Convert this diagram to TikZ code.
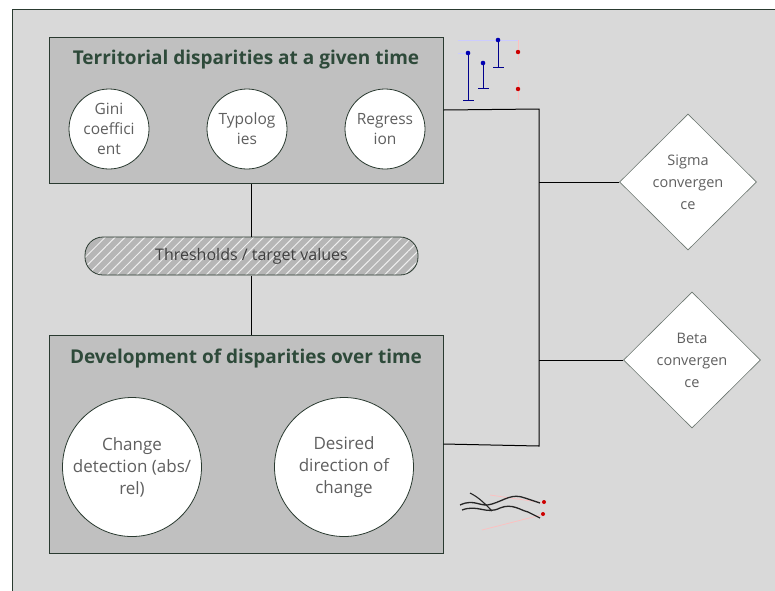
\documentclass[tikz,border=0pt]{standalone}
\usepackage{fontspec}
\setmainfont{Open Sans}
\usetikzlibrary{patterns.meta,shapes.geometric,calc}
\definecolor{bgc}{HTML}{D9D9D9}
\definecolor{boxc}{HTML}{C0C0C0}
\definecolor{titlec}{HTML}{2E4A3A}
\definecolor{txtc}{HTML}{5F5F5F}
\definecolor{framec}{HTML}{2A3A30}
\begin{document}
\begin{tikzpicture}[x=1pt,y=-1pt,
  bigbox/.style={draw=framec,line width=1pt,fill=boxc,minimum width=394pt,inner sep=0pt},
  ttl/.style={text=titlec,font=\bfseries\fontsize{19}{22}\selectfont},
  smallcirc/.style={circle,draw=framec,line width=0.8pt,fill=white,minimum size=80pt,inner sep=0pt,align=center,text=txtc,font=\fontsize{15.5}{20}\selectfont},
  largecirc/.style={circle,draw=framec,line width=0.8pt,fill=white,minimum size=139pt,inner sep=0pt,align=center,text=txtc,font=\fontsize{17}{22}\selectfont},
  dia/.style={diamond,draw=framec!70,line width=0.6pt,fill=white,minimum width=137pt,minimum height=136pt,inner sep=0pt,align=center,text=txtc,font=\fontsize{14.5}{22}\selectfont},
  conn/.style={draw=black,line width=1pt}]
\useasboundingbox (0,0) rectangle (775,590);
\fill[white] (0,0) rectangle (775,590);
\draw[framec,line width=1pt,fill=bgc] (12,9) rectangle (800,620);
% boxes
\node[bigbox,minimum height=146pt] (tb) at (246,110) {};
\node[bigbox,minimum height=218pt] (bb) at (246,444) {};
\node[ttl] (tt) at (246,60) {Territorial disparities at a given time};
\node[ttl] (bt) at (246,359) {Development of disparities over time};
% circles
\node[smallcirc] (gini) at (109,129) {Gini\\coeffici\\ent};
\node[smallcirc] (typo) at (247,129) {Typolog\\ies};
\node[smallcirc] (regr) at (385,129) {Regress\\ion};
\node[largecirc] (chg) at (132,467) {Change\\detection (abs/\\rel)};
\node[largecirc] (des) at (344,467) {Desired\\direction of\\change};
% pill
\node[draw=framec,line width=0.8pt,rounded corners=18pt,minimum width=333pt,minimum height=38pt,
  preaction={fill=boxc!95!black},pattern={Lines[angle=45,distance=7pt,line width=1pt]},pattern color=white!75!boxc,
  text=black!75,font=\fontsize{16}{19}\selectfont] (pill) at (251.5,256) {Thresholds / target values};
% diamonds
\node[dia] (sig) at (688,182) {Sigma\\convergen\\ce};
\node[dia] (beta) at (692,360) {Beta\\convergen\\ce};
% connectors
\coordinate (jt) at (539,109);
\coordinate (jb) at (539,446);
\draw[conn] (tb.east) -- (jt) -- (jb) -- (bb.east);
\draw[conn] (sig.west) -- (sig.west -| jt);
\draw[conn] (beta.west) -- (beta.west -| jt);
\draw[conn] (pill.north) -- (pill.north |- tb.south);
\draw[conn] (pill.south) -- (pill.south |- bb.north);
% top icon
\draw[blue!20!white,line width=0.5pt] (458,40) -- (518,40) (458,53) -- (470,53);
\draw[red!25,line width=0.6pt] (518,40) -- (518,60) (518,80) -- (518,100);
\draw[blue!55!black,line width=1pt] (468,53) -- (468,100) (463,100) -- (474,100);
\draw[blue!55!black,line width=1pt] (483,63) -- (483,88) (478,88) -- (489,88);
\draw[blue!55!black,line width=1pt] (498,40) -- (498,67) (493,67) -- (504,67);
\fill[blue!70!black] (468,53) circle (2.3pt) (483,63) circle (2.3pt) (498,40) circle (2.3pt);
\fill[red!80!black] (518,52) circle (2.2pt) (518,89) circle (2.2pt);
% bottom icon
\draw[red!25,line width=0.7pt] (482,530) -- (545,514) (490,495) -- (545,503);
\draw[black!85,line width=1.3pt] (460,505) .. controls (475,498) and (480,508) .. (492,504) .. controls (505,500) and (512,493) .. (525,498) -- (540,503);
\draw[black!85,line width=1.3pt] (462,510) .. controls (478,504) and (486,515) .. (500,508) .. controls (512,503) and (520,510) .. (528,512) -- (540,518);
\draw[black!85,line width=1.1pt] (470,493) .. controls (480,498) and (486,505) .. (492,511);
\fill[red!80!black] (544,502) circle (2pt) (543,514) circle (2pt);
\end{tikzpicture}
\end{document}
